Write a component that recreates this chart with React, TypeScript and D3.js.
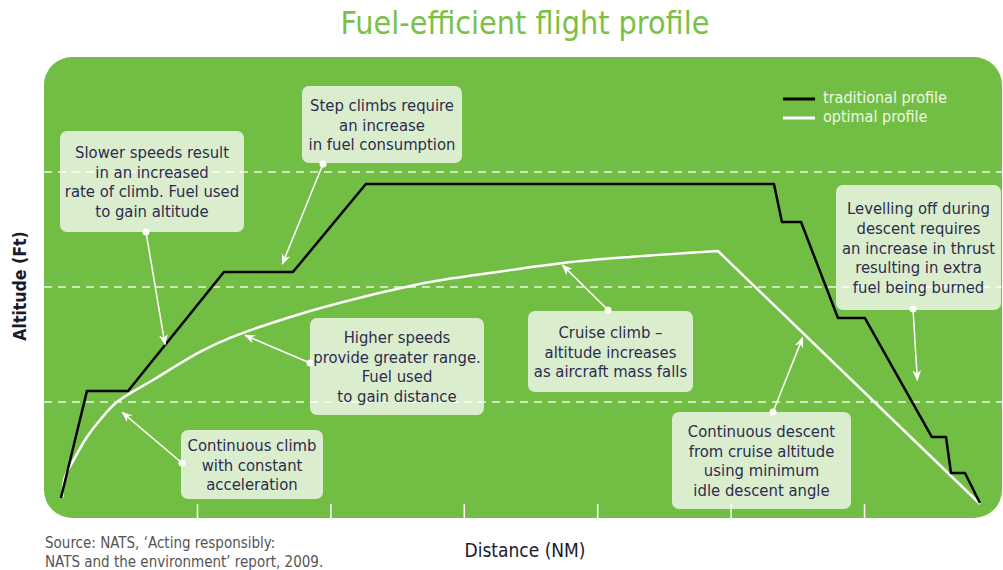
import React, { useEffect, useRef } from "react";
import * as d3 from "d3";

// distance ticks along the bottom edge (NM, schematic)
const distanceTicks = [100, 200, 300, 400, 500, 600];
// dashed altitude levels (ft)
const altitudeLevels = [10000, 20000, 30000];

// traditional (stepped) profile
const traditionalDistance = [-2, 17.5, 48.3, 120.2, 171.9, 226.6, 532.5, 538.5, 552.8, 580.5, 600.7, 650.9, 661.5, 665.2, 675.7, 686.9];
const traditionalAltitude = [1650, 10950, 10950, 21300, 21300, 28950, 28950, 25650, 25650, 17300, 17300, 6950, 6950, 3830, 3830, 1220];

// optimal profile: continuous climb then continuous descent
const optimalClimbDistance = [-1, 1, 6.3, 17.5, 27.3, 40, 67, 102.2, 124.7, 174.9, 224.4, 274.7, 324.9, 374.4, 424.6, 490.5];
const optimalClimbAltitude = [1700, 3480, 4700, 6960, 8440, 10000, 11910, 14350, 15570, 17570, 19130, 20430, 21300, 22090, 22610, 23130];
const optimalDescentDistance = [490.5, 687];
const optimalDescentAltitude = [23130, 1130];

const legendLabels = ["traditional profile", "optimal profile"];

// callouts: text, box (x, y, w, h in px), dot (px), arrow target (data units)
const notes = [
  { lines: ["Slower speeds result", "in an increased", "rate of climb. Fuel used", "to gain altitude"], box: [60, 131, 184, 101], dot: [146, 232], target: [76, 15000] },
  { lines: ["Step climbs require", "an increase", "in fuel consumption"], box: [302, 86, 160, 77], dot: [323, 164], target: [164, 22000] },
  { lines: ["Higher speeds", "provide greater range.", "Fuel used", "to gain distance"], box: [310, 318, 174, 97], dot: [310, 363], target: [136, 15800] },
  { lines: ["Cruise climb \u2013", "altitude increases", "as aircraft mass falls"], box: [528, 311, 165, 81], dot: [608, 310], target: [374, 21900] },
  { lines: ["Continuous climb", "with constant", "acceleration"], box: [181, 430, 142, 69], dot: [182, 463], target: [44, 9100] },
  { lines: ["Levelling off during", "descent requires", "an increase in thrust", "resulting in extra", "fuel being burned"], box: [836, 185, 165, 125], dot: [913, 309], target: [640, 11900] },
  { lines: ["Continuous descent", "from cruise altitude", "using minimum", "idle descent angle"], box: [672, 412, 179, 97], dot: [773, 412], target: [554, 15600] },
];

const FONT = "'DejaVu Sans Condensed', 'DejaVu Sans', sans-serif";
const GREEN = "#72be44";

const App = () => {
  const ref = useRef<SVGSVGElement | null>(null);

  useEffect(() => {
    document.body.style.margin = "0";
    const svg = d3.select(ref.current);
    svg.selectAll("*").remove();

    const x = d3.scaleLinear().domain([0, 700]).range([63.6, 997.4]);
    const y = d3.scaleLinear().domain([0, 40000]).range([517, 57]);

    // Title
    svg.append("text")
      .attr("x", 525).attr("y", 34)
      .attr("text-anchor", "middle")
      .attr("font-family", FONT).attr("font-stretch", "condensed")
      .attr("font-size", 32).attr("fill", "#7ac143")
      .text("Fuel-efficient flight profile");

    // Green panel
    svg.append("rect")
      .attr("x", 44).attr("y", 57).attr("width", 958).attr("height", 461)
      .attr("rx", 28).attr("fill", GREEN);

    // Dashed altitude levels
    svg.selectAll(".level")
      .data(altitudeLevels)
      .enter().append("line")
      .attr("class", "level")
      .attr("x1", 44).attr("x2", 1002)
      .attr("y1", d => y(d)).attr("y2", d => y(d))
      .attr("stroke", "#fff").attr("stroke-opacity", 0.85)
      .attr("stroke-width", 1.5).attr("stroke-dasharray", "8,6");

    // Profiles
    const tradData = traditionalDistance.map((d, i) => [d, traditionalAltitude[i]] as [number, number]);
    const climbData = optimalClimbDistance.map((d, i) => [d, optimalClimbAltitude[i]] as [number, number]);
    const descentData = optimalDescentDistance.map((d, i) => [d, optimalDescentAltitude[i]] as [number, number]);

    const straight = d3.line<[number, number]>().x(d => x(d[0])).y(d => y(d[1]));
    const smooth = d3.line<[number, number]>().x(d => x(d[0])).y(d => y(d[1])).curve(d3.curveCatmullRom.alpha(0.5));

    svg.append("path")
      .attr("d", smooth(climbData) + (straight(descentData) || "").replace(/^M/, "L"))
      .attr("fill", "none").attr("stroke", "#fff").attr("stroke-width", 2.5)
      .attr("stroke-linejoin", "round");

    svg.append("path")
      .attr("d", straight(tradData))
      .attr("fill", "none").attr("stroke", "#000").attr("stroke-width", 2.5)
      .attr("stroke-linejoin", "round");

    // Arrow marker
    svg.append("defs").append("marker")
      .attr("id", "arrow")
      .attr("viewBox", "0 0 10 8")
      .attr("refX", 9).attr("refY", 4)
      .attr("markerWidth", 11).attr("markerHeight", 9)
      .attr("markerUnits", "userSpaceOnUse")
      .attr("orient", "auto")
      .append("path")
      .attr("d", "M0,0 L10,4 L0,8 L3,4 Z")
      .attr("fill", "#fff");

    // Callout boxes
    const note = svg.selectAll(".note")
      .data(notes)
      .enter().append("g")
      .attr("class", "note");

    note.append("rect")
      .attr("x", d => d.box[0]).attr("y", d => d.box[1])
      .attr("width", d => d.box[2]).attr("height", d => d.box[3])
      .attr("rx", 7).attr("fill", "#fff").attr("fill-opacity", 0.74);

    note.each(function (d) {
      const g = d3.select(this);
      const lh = 19.8;
      const cx = d.box[0] + d.box[2] / 2;
      const top = d.box[1] + d.box[3] / 2 - (d.lines.length - 1) * lh / 2;
      g.selectAll("text")
        .data(d.lines)
        .enter().append("text")
        .attr("x", cx)
        .attr("y", (_, i) => top + i * lh + 6)
        .attr("text-anchor", "middle")
        .attr("font-family", FONT).attr("font-stretch", "condensed")
        .attr("font-size", 16.5).attr("fill", "#2d2b4e")
        .text(t => t);
    });

    // Arrows
    note.append("line")
      .attr("x1", d => d.dot[0]).attr("y1", d => d.dot[1])
      .attr("x2", d => x(d.target[0])).attr("y2", d => y(d.target[1]))
      .attr("stroke", "#fff").attr("stroke-width", 1.5)
      .attr("marker-end", "url(#arrow)");

    note.append("circle")
      .attr("cx", d => d.dot[0]).attr("cy", d => d.dot[1])
      .attr("r", 3.5).attr("fill", "#fff");

    // Distance ticks (pointing up from the panel bottom)
    const axis = svg.append("g")
      .attr("transform", "translate(0,518)")
      .call(d3.axisTop(x).tickValues(distanceTicks).tickSize(14).tickFormat(() => ""));
    axis.select(".domain").remove();
    axis.selectAll("line").attr("stroke", "#fff").attr("stroke-width", 1.5);

    // Axis titles
    svg.append("text")
      .attr("x", 525).attr("y", 557)
      .attr("text-anchor", "middle")
      .attr("font-family", FONT).attr("font-stretch", "condensed")
      .attr("font-size", 19).attr("fill", "#1a1a2a")
      .text("Distance (NM)");

    svg.append("text")
      .attr("transform", "translate(26,286) rotate(-90)")
      .attr("text-anchor", "middle")
      .attr("font-family", FONT).attr("font-stretch", "condensed")
      .attr("font-size", 17.5).attr("font-weight", "bold").attr("fill", "#1a1a2a")
      .text("Altitude (Ft)");

    // Source
    const src = svg.append("text")
      .attr("font-family", FONT).attr("font-stretch", "condensed")
      .attr("font-size", 15).attr("fill", "#555");
    src.append("tspan").attr("x", 45).attr("y", 548).text("Source: NATS, \u2018Acting responsibly:");
    src.append("tspan").attr("x", 45).attr("y", 567).text("NATS and the environment\u2019 report, 2009.");

    // Legend
    const legend = svg.append("g");
    legendLabels.forEach((label, i) => {
      const ly = 99 + i * 19;
      legend.append("line")
        .attr("x1", 783).attr("x2", 815).attr("y1", ly).attr("y2", ly)
        .attr("stroke", i === 0 ? "#000" : "#fff").attr("stroke-width", 3);
      legend.append("text")
        .attr("x", 823).attr("y", ly + 4)
        .attr("font-family", FONT).attr("font-stretch", "condensed")
        .attr("font-size", 16).attr("fill", "#eef8e4")
        .text(label);
    });
  }, []);

  return <svg ref={ref} width={1003} height={570} style={{ display: "block" }} />;
};

export default App;
